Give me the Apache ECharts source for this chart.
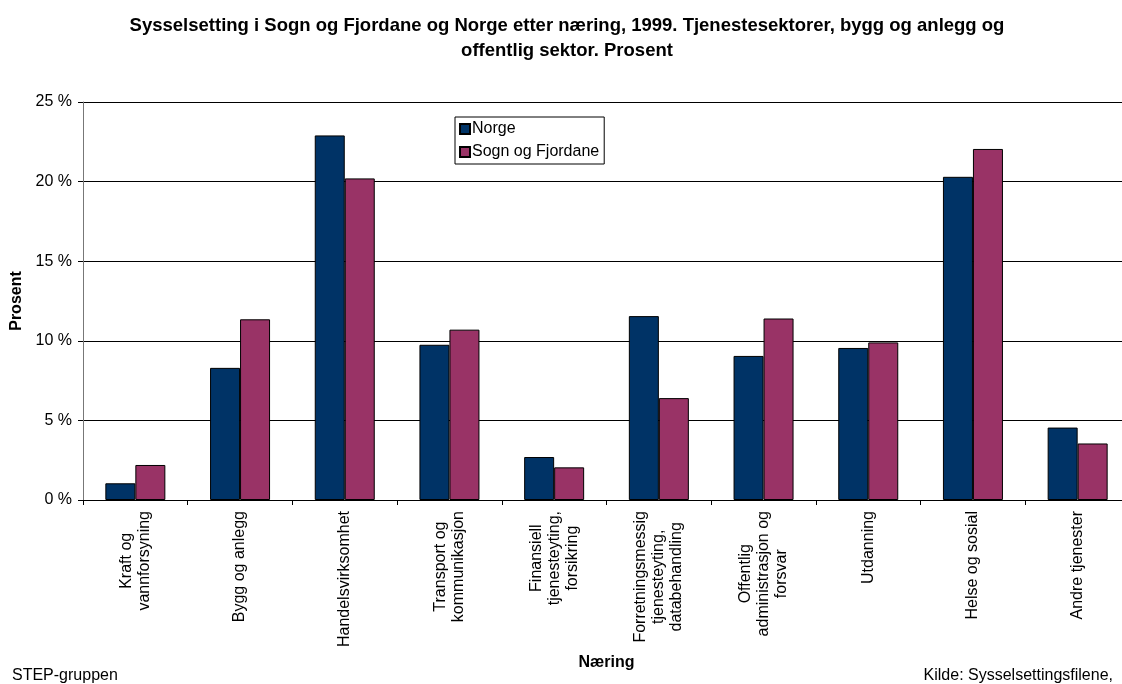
<!DOCTYPE html>
<html>
<head>
<meta charset="utf-8">
<script src="https://cdn.jsdelivr.net/npm/echarts@6/dist/echarts.min.js"></script>
<style>
    html, body { margin: 0; padding: 0; background: #fff; }
    #main { width: 1122px; height: 684px; }
</style>
</head>
<body>
<div id="main"></div>
<script>
// data
var categories = [
    'Kraft og\nvannforsyning',
    'Bygg og anlegg',
    'Handelsvirksomhet',
    'Transport og\nkommunikasjon',
    'Finansiell\ntjenesteyting,\nforsikring',
    'Forretningsmessig\ntjenesteyting,\ndatabehandling',
    'Offentlig\nadministrasjon og\nforsvar',
    'Utdanning',
    'Helse og sosial',
    'Andre tjenester'
];
var norge = [1.05, 8.3, 22.9, 9.75, 2.7, 11.55, 9.05, 9.55, 20.3, 4.55];
var sognFjordane = [2.2, 11.35, 20.2, 10.7, 2.05, 6.4, 11.4, 9.9, 22.05, 3.55];
var yTicks = { min: 0, max: 25, interval: 5 };

var font = 'Arial, "Liberation Sans", sans-serif';
var chart = echarts.init(document.getElementById('main'));

var option = {
    backgroundColor: '#fff',
    animation: false,
    textStyle: { fontFamily: font, color: '#000' },
    title: [{
        text: 'Sysselsetting i Sogn og Fjordane og Norge etter næring, 1999. Tjenestesektorer, bygg og anlegg og\noffentlig sektor. Prosent',
        left: 562,
        top: 8,
        textAlign: 'center',
        textStyle: { fontFamily: font, fontSize: 18.5, fontWeight: 'bold', color: '#000', lineHeight: 25 }
    }, {
        text: 'STEP-gruppen',
        left: 12,
        top: 668,
        padding: 0,
        textStyle: { fontFamily: font, fontSize: 16, fontWeight: 'normal', color: '#000' }
    }, {
        text: 'Kilde: Sysselsettingsfilene,',
        right: 9,
        top: 668,
        padding: 0,
        textStyle: { fontFamily: font, fontSize: 16, fontWeight: 'normal', color: '#000' }
    }],
    legend: {
        left: 455,
        top: 117,
        orient: 'vertical',
        icon: 'rect',
        itemWidth: 10,
        itemHeight: 10,
        itemGap: 7,
        padding: [4, 5, 4, 4],
        borderColor: '#000',
        borderWidth: 1,
        backgroundColor: '#fff',
        textStyle: { fontFamily: font, fontSize: 16, color: '#000', padding: [0, 0, 0, -3] },
        data: ['Norge', 'Sogn og Fjordane']
    },
    grid: { left: 83, width: 1047, top: 102, bottom: 184, containLabel: false, outerBoundsMode: 'none' },
    xAxis: {
        type: 'category',
        data: categories,
        name: 'Næring',
        nameLocation: 'middle',
        nameGap: 155,
        nameTextStyle: { fontFamily: font, fontSize: 16, fontWeight: 'bold', color: '#000' },
        axisLine: { lineStyle: { color: '#000', width: 1 } },
        axisTick: { show: true, length: 5, lineStyle: { color: '#000' } },
        axisLabel: {
            rotate: 90,
            margin: 11,
            fontFamily: font,
            fontSize: 16,
            color: '#000',
            lineHeight: 18,
            interval: 0,
            formatter: function (value) {
                return value.split('\n').map(function (l) { return '{c|' + l + '}'; }).join('\n');
            },
            rich: { c: { align: 'center', fontFamily: font, fontSize: 16, color: '#000', lineHeight: 18 } }
        }
    },
    yAxis: {
        type: 'value',
        min: yTicks.min,
        max: yTicks.max,
        interval: yTicks.interval,
        name: 'Prosent',
        nameLocation: 'middle',
        nameRotate: 90,
        nameGap: 57,
        nameTextStyle: { fontFamily: font, fontSize: 16, fontWeight: 'bold', color: '#000' },
        axisLine: { show: true, lineStyle: { color: '#777', width: 1 } },
        axisTick: { show: true, length: 5, lineStyle: { color: '#000' } },
        axisLabel: { margin: 11, fontFamily: font, fontSize: 16, color: '#000', formatter: '{value} %' },
        splitLine: { show: true, lineStyle: { color: '#000', width: 1 } }
    },
    series: [{
        name: 'Norge',
        type: 'bar',
        data: norge,
        barWidth: 30,
        barGap: '0%',
        itemStyle: { color: '#003366', borderColor: '#000', borderWidth: 1 }
    }, {
        name: 'Sogn og Fjordane',
        type: 'bar',
        data: sognFjordane,
        barWidth: 30,
        itemStyle: { color: '#993366', borderColor: '#000', borderWidth: 1 }
    }]
};
chart.setOption(option);
</script>
</body>
</html>
